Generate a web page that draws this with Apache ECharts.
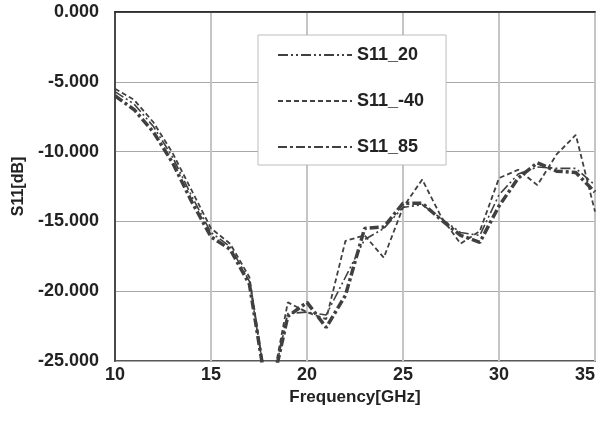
<!DOCTYPE html>
<html>
<head>
<meta charset="utf-8">
<script src="https://cdn.jsdelivr.net/npm/echarts@6/dist/echarts.min.js"></script>
<style>html,body{margin:0;padding:0;background:#fff;}#c{width:602px;height:421px;}</style>
</head>
<body>
<div id="c"></div>
<script>
var freq = [10,11,12,13,14,15,16,17,18,19,20,21,22,23,24,25,26,27,28,29,30,31,32,33,34,35];
var s11_20 = [-5.7,-6.6,-8.2,-10.4,-13.2,-15.8,-16.8,-19.3,-28,-21.6,-21.5,-21.7,-19.0,-16.3,-15.5,-14.0,-13.8,-14.8,-15.8,-16.0,-13.1,-11.6,-11.1,-11.2,-11.2,-12.4];
var s11_m40 = [-5.5,-6.3,-7.9,-10.1,-12.8,-15.5,-16.6,-19.0,-28,-20.8,-21.5,-22.0,-16.4,-16.0,-17.6,-14.0,-12.0,-14.7,-16.6,-15.7,-11.9,-11.3,-12.4,-10.2,-8.8,-14.3];
var s11_85 = [-6.0,-7.0,-8.6,-10.8,-13.6,-16.1,-17.0,-19.5,-28,-21.8,-20.8,-22.6,-20.3,-15.5,-15.4,-13.7,-13.7,-14.9,-16.0,-16.5,-13.9,-11.9,-10.8,-11.4,-11.5,-12.9];
var seriesNames = ['S11_20','S11_-40','S11_85'];
var xTicks = {min:10,max:35,interval:5};
var yTicks = {min:-25,max:0,interval:5};

function pairs(vals){ return freq.map(function(f,i){ return [f, vals[i]]; }); }
var font = 'Liberation Sans, Arial, sans-serif';
var col = '#404040';
var chart = echarts.init(document.getElementById('c'), null, {renderer:'canvas'});
chart.setOption({
  animation:false,
  backgroundColor:'#fff',
  grid:{left:115,right:7,top:12,bottom:60,show:true,borderColor:'#222',borderWidth:1.5,containLabel:false},
  legend:{
    orient:'vertical', left:258, top:35, width:160,
    backgroundColor:'#fff', borderColor:'#bdbdbd', borderWidth:1,
    padding:[10,22,8,19],
    itemWidth:74, itemHeight:20, itemGap:26,
    itemStyle:{opacity:0},
    textStyle:{fontFamily:font,fontWeight:'bold',fontSize:18,color:'#222',lineHeight:20},
    data:seriesNames
  },
  xAxis:{
    type:'value', min:xTicks.min, max:xTicks.max, interval:xTicks.interval,
    name:'Frequency[GHz]', nameLocation:'middle', nameGap:23,
    nameTextStyle:{fontFamily:font,fontWeight:'bold',fontSize:17,color:'#222'},
    axisLine:{show:true,lineStyle:{color:'#222',width:1.5}},
    axisTick:{show:false},
    axisLabel:{fontFamily:font,fontWeight:'bold',fontSize:18,color:'#222',margin:5,alignMaxLabel:'right'},
    splitLine:{show:true,lineStyle:{color:'#c4c4c4',width:2}}
  },
  yAxis:{
    type:'value', min:yTicks.min, max:yTicks.max, interval:yTicks.interval,
    name:'S11[dB]', nameLocation:'middle', nameGap:88, nameRotate:90,
    nameTextStyle:{fontFamily:font,fontWeight:'bold',fontSize:16,color:'#222'},
    axisLine:{show:true,lineStyle:{color:'#222',width:1.5}},
    axisTick:{show:false},
    axisLabel:{fontFamily:font,fontWeight:'bold',fontSize:18,color:'#222',margin:16,
      formatter:function(v){return v.toFixed(3);}},
    splitLine:{show:true,lineStyle:{color:'#a8a8a8',width:1}}
  },
  series:[
    {name:seriesNames[0],type:'line',data:pairs(s11_20),symbol:'none',clip:true,
      lineStyle:{color:col,width:1.6,type:[10,3,2,3,2,3]},itemStyle:{color:col}},
    {name:seriesNames[1],type:'line',data:pairs(s11_m40),symbol:'none',clip:true,
      lineStyle:{color:col,width:1.8,type:[5,3]},itemStyle:{color:col}},
    {name:seriesNames[2],type:'line',data:pairs(s11_85),symbol:'none',clip:true,
      lineStyle:{color:col,width:3.5,type:[9,3,3,3]},itemStyle:{color:col}}
  ]
});
</script>
</body>
</html>
